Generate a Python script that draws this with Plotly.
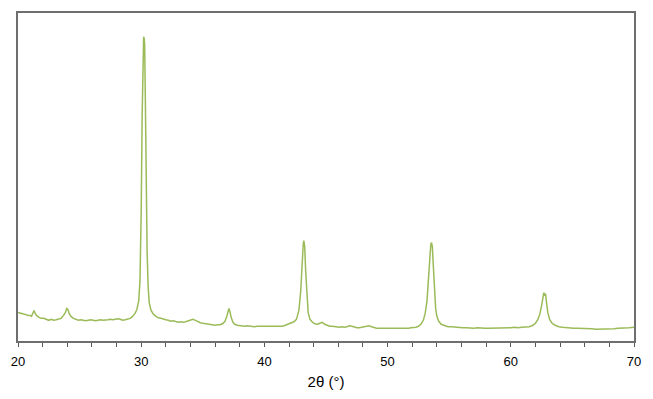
import plotly.graph_objects as go

two_theta = [20.0, 20.2, 20.4, 20.6, 20.8, 21.0, 21.1, 21.2, 21.3, 21.4, 21.5, 21.7, 21.9, 22.1, 22.3, 22.5, 22.7, 22.9, 23.1, 23.3, 23.5, 23.7, 23.85, 23.95, 24.05, 24.15, 24.3, 24.5, 24.7, 24.9,
             25.1, 25.3, 25.5, 25.7, 25.9, 26.1, 26.3, 26.5, 26.7, 26.9, 27.1, 27.3, 27.5, 27.7, 27.9, 28.1, 28.3, 28.5, 28.7, 28.9, 29.1, 29.3, 29.5, 29.65, 29.8, 29.9, 30.0, 30.08, 30.14, 30.2,
             30.24, 30.28, 30.34, 30.4, 30.48, 30.56, 30.65, 30.8, 31.0, 31.2, 31.4, 31.6, 31.8, 32.0, 32.2, 32.4, 32.6, 32.8, 33.0, 33.2, 33.4, 33.6, 33.8, 34.0, 34.2, 34.4, 34.6, 34.8, 35.0, 35.2,
             35.4, 35.6, 35.8, 36.0, 36.2, 36.4, 36.6, 36.8, 36.95, 37.05, 37.12, 37.2, 37.3, 37.45, 37.6, 37.8, 38.0, 38.2, 38.4, 38.6, 38.8, 39.0, 39.2, 39.4, 39.6, 39.8, 40.0, 40.2, 40.4, 40.6,
             40.8, 41.0, 41.2, 41.4, 41.6, 41.8, 42.0, 42.2, 42.4, 42.6, 42.8, 42.95, 43.05, 43.15, 43.2, 43.27, 43.35, 43.45, 43.55, 43.7, 43.9, 44.1, 44.3, 44.5, 44.7, 44.9, 45.1, 45.3, 45.5, 45.7,
             45.9, 46.1, 46.3, 46.5, 46.7, 46.9, 47.1, 47.3, 47.5, 47.7, 47.9, 48.1, 48.3, 48.5, 48.7, 48.9, 49.1, 49.3, 49.5, 49.7, 49.9, 50.1, 50.3, 50.5, 50.7, 50.9, 51.1, 51.3, 51.5, 51.7,
             51.9, 52.1, 52.3, 52.5, 52.7, 52.9, 53.05, 53.2, 53.3, 53.4, 53.5, 53.56, 53.63, 53.7, 53.8, 53.9, 54.0, 54.15, 54.35, 54.6, 54.9, 55.2, 55.5, 55.8, 56.1, 56.4, 56.7, 57.0, 57.3, 57.6,
             57.9, 58.2, 58.5, 58.8, 59.1, 59.4, 59.7, 60.0, 60.3, 60.6, 60.9, 61.2, 61.5, 61.8, 62.0, 62.2, 62.35, 62.5, 62.6, 62.68, 62.75, 62.82, 62.9, 63.0, 63.15, 63.35, 63.6, 63.9, 64.2, 64.5,
             64.8, 65.1, 65.4, 65.7, 66.0, 66.3, 66.6, 66.9, 67.2, 67.5, 67.8, 68.1, 68.4, 68.7, 69.0, 69.3, 69.6, 70.0]

intensity = [29, 28.5, 28, 27, 26, 26, 25, 28, 31, 28, 26, 24, 23, 23, 22, 21, 22, 21, 21.5, 22, 23, 26, 29, 33, 32, 28, 25, 23, 22, 21,
             21.5, 21, 20.5, 21, 21.5, 21, 20.5, 21, 21.5, 21, 21, 21.5, 22, 21.5, 22, 22.5, 22, 21, 21.5, 22, 23, 25, 28, 32, 41, 61, 131, 231, 296, 309,
             307, 301, 241, 161, 91, 56, 39, 31, 27, 25, 23.5, 23, 22, 21.5, 21, 20, 20.5, 19.5, 19, 19.5, 19, 19.5, 20.5, 21.5, 22, 21, 19.5, 18.5, 18, 17.5,
             17, 16.5, 16.5, 16, 16.5, 16.5, 17.5, 20, 25, 31, 33, 30, 24, 19, 17, 16, 15.5, 15.5, 15, 15.5, 15, 15, 14.5, 15, 15, 14.5, 15, 14.5, 14.5, 15,
             14.5, 14.5, 15, 15, 15.5, 16.5, 17.5, 18, 19.5, 22, 31, 51, 79, 98, 102, 96, 71, 43, 29, 22, 19, 17.5, 17, 18, 19, 17, 16, 15, 15, 14.5,
             14.5, 14, 14.5, 14, 14.5, 15.5, 15, 14, 13.5, 13.5, 14, 14.5, 15, 15.5, 14.5, 13.5, 13, 13, 13, 13, 12.5, 13, 13, 12.5, 13, 12.5, 13, 13, 13, 13,
             13.5, 13.5, 14, 15, 17, 21, 28, 41, 61, 83, 97, 100, 96, 79, 51, 33, 25, 20, 17, 15.5, 14.5, 14.5, 14, 14, 13.5, 13.5, 13, 13, 13.5, 13,
             13, 13, 13, 13, 13.5, 13, 13.5, 13.5, 14, 13.5, 14, 14, 14.5, 16, 18, 22, 27, 36, 44, 49, 47, 48, 39, 29, 22, 18, 16, 14.5, 14, 13.5,
             13.5, 13, 13, 13, 12.5, 13, 12.5, 12, 12, 12.5, 12.5, 12, 12.5, 13, 13, 13, 13.5, 14]

x_ticks = [20, 30, 40, 50, 60, 70]

fig = go.Figure()
fig.add_trace(go.Scatter(x=two_theta, y=intensity, mode="lines",
                         line=dict(color="#9BBB59", width=1.5), showlegend=False))

fig.update_layout(
    width=653, height=399,
    margin=dict(l=18, r=19, t=11, b=55),
    paper_bgcolor="white", plot_bgcolor="white",
    font=dict(family="Liberation Sans, Arial, sans-serif", color="#000000"),
    xaxis=dict(range=[20, 70], tickvals=x_ticks, ticks="outside", ticklen=4, tickcolor="#595959",
               tickfont=dict(size=13), ticklabelstandoff=4, showgrid=False, zeroline=False,
               showline=True, linecolor="#6E6E6E", linewidth=1.5, mirror=True,
               minor=dict(dtick=2, ticks="outside", ticklen=4, tickcolor="#595959", showgrid=False),
               title=dict(text="2θ (°)", font=dict(size=15), standoff=8)),
    yaxis=dict(range=[0, 333], showticklabels=False, ticks="", showgrid=False, zeroline=False,
               showline=True, linecolor="#6E6E6E", linewidth=1.5, mirror=True),
)

fig.write_html("out.html")
